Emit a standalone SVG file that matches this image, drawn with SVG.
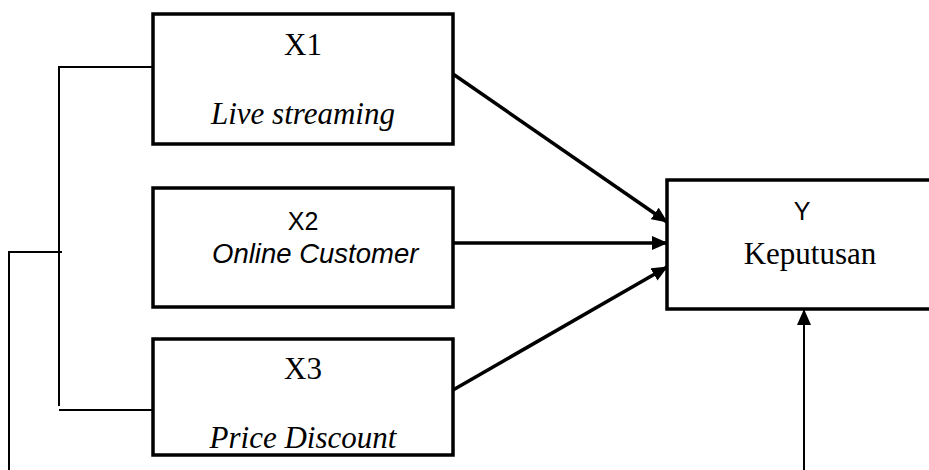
<svg xmlns="http://www.w3.org/2000/svg" width="929" height="470" viewBox="0 0 929 470">
<style>
.box{fill:#fff;stroke:#000;stroke-width:3.5}
.serif{font-family:"Liberation Serif","Times New Roman",serif;font-size:31px;fill:#000}
.sans{font-family:"Liberation Sans",Arial,sans-serif;font-size:25px;fill:#000}
.it{font-style:italic}
.big{font-size:27.5px}
.thick{stroke:#000;stroke-width:3.5;fill:none}
.thin{stroke:#000;stroke-width:2;fill:none}
</style>
<defs>
<marker id="ah" markerUnits="userSpaceOnUse" markerWidth="16" markerHeight="14" refX="15" refY="7" orient="auto">
<path d="M0,0 L16,7 L0,14 Z" fill="#000"/>
</marker>
</defs>
<g id="connectors">
<polyline class="thin" points="153,67 59,67 59,406"/>
<line class="thin" x1="59" y1="410" x2="153" y2="410"/>
<polyline class="thin" points="62,252 9,252 9,470"/>
<line class="thick" x1="453" y1="74" x2="667" y2="222" marker-end="url(#ah)"/>
<line class="thick" x1="453" y1="243" x2="667" y2="243" marker-end="url(#ah)"/>
<line class="thick" x1="453" y1="390" x2="667" y2="267" marker-end="url(#ah)"/>
<line class="thin" x1="804" y1="470" x2="804" y2="310" marker-end="url(#ah)"/>
</g>
<g id="x1">
<rect class="box" x="153" y="14" width="300" height="130"/>
<text class="serif" x="303" y="55" text-anchor="middle">X1</text>
<text class="serif it" x="303" y="124" text-anchor="middle">Live streaming</text>
</g>
<g id="x2">
<rect class="box" x="153" y="188" width="300" height="119"/>
<text class="sans" x="303" y="230" text-anchor="middle">X2</text>
<text class="sans it big" x="212" y="263">Online Customer</text>
</g>
<g id="x3">
<rect class="box" x="153" y="339" width="300" height="116"/>
<text class="serif" x="303" y="379" text-anchor="middle">X3</text>
<text class="serif it" x="303" y="448" text-anchor="middle">Price Discount</text>
</g>
<g id="y">
<rect class="box" x="667" y="180" width="280" height="129"/>
<text class="sans" x="802" y="220" text-anchor="middle">Y</text>
<text class="serif" x="810" y="264" text-anchor="middle">Keputusan</text>
</g>
</svg>
